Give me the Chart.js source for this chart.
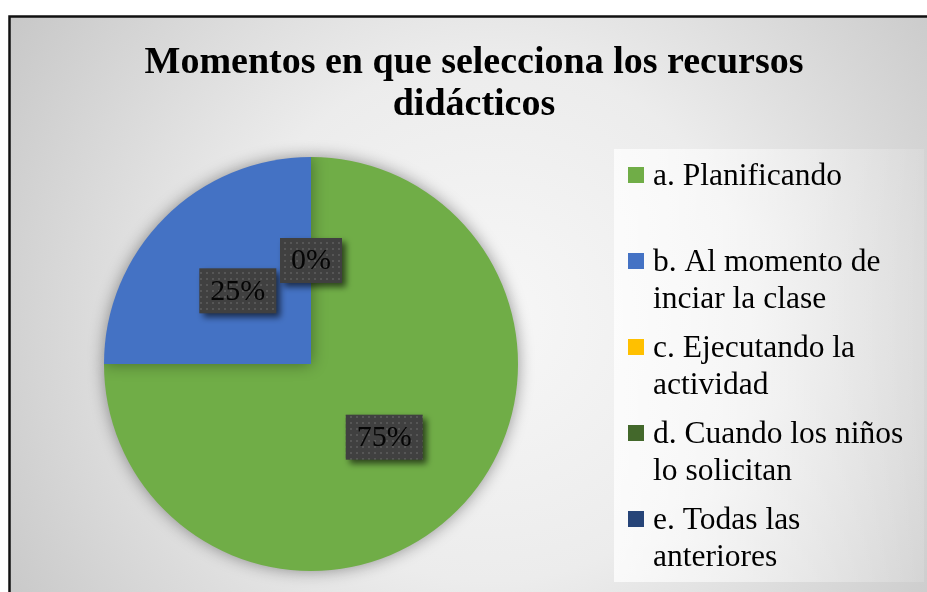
<!DOCTYPE html>
<html>
<head>
<meta charset="utf-8">
<script src="https://cdn.jsdelivr.net/npm/chart.js@4/dist/chart.umd.min.js"></script>
<style>
html,body{margin:0;padding:0;background:#fff;overflow:hidden;}
canvas{display:block;}
</style>
</head>
<body>
<canvas id="c" width="927" height="592"></canvas>
<script>
const titleLines = ["Momentos en que selecciona los recursos", "didácticos"];
const categories = ["a. Planificando", "b. Al momento de inciar la clase", "c. Ejecutando la actividad", "d. Cuando los niños lo solicitan", "e. Todas las anteriores"];
const values = [75, 25, 0, 0, 0];
const colors = ["#70AD47", "#4472C4", "#FFC000", "#43682B", "#264478"];

const SERIF = "'Liberation Serif','Times New Roman',serif";

function makePattern(ctx) {
  const p = document.createElement('canvas');
  p.width = 6; p.height = 6;
  const g = p.getContext('2d');
  g.fillStyle = '#404040'; g.fillRect(0, 0, 6, 6);
  g.fillStyle = '#565656'; g.fillRect(2, 2, 2, 2);
  return ctx.createPattern(p, 'repeat');
}

function wrap(ctx, text, maxW) {
  const words = text.split(' ');
  const lines = [];
  let cur = '';
  for (const w of words) {
    const t = cur ? cur + ' ' + w : w;
    if (ctx.measureText(t).width > maxW && cur) { lines.push(cur); cur = w; }
    else cur = t;
  }
  if (cur) lines.push(cur);
  return lines;
}

const decor = {
  id: 'decor',
  beforeDraw(chart) {
    const ctx = chart.ctx;
    ctx.save();
    ctx.fillStyle = '#fff';
    ctx.fillRect(0, 0, 927, 592);
    const g = ctx.createRadialGradient(490, 320, 0, 490, 320, 580);
    g.addColorStop(0, '#f7f7f7');
    g.addColorStop(0.45, '#ececec');
    g.addColorStop(1, '#c6c6c6');
    ctx.fillStyle = g;
    ctx.fillRect(9, 16, 918, 576);
    // border
    ctx.strokeStyle = '#111';
    ctx.lineWidth = 2.5;
    ctx.beginPath();
    ctx.moveTo(9.5, 592); ctx.lineTo(9.5, 16.5); ctx.lineTo(927, 16.5);
    ctx.stroke();
    // title
    ctx.fillStyle = '#000';
    ctx.font = 'bold 38px ' + SERIF;
    ctx.textAlign = 'center';
    ctx.textBaseline = 'alphabetic';
    ctx.fillText(titleLines[0], 474, 73);
    ctx.fillText(titleLines[1], 474, 115);
    // legend box
    const lg = ctx.createLinearGradient(614, 0, 924, 0);
    lg.addColorStop(0, 'rgba(255,255,255,0.75)');
    lg.addColorStop(1, 'rgba(255,255,255,0.12)');
    ctx.fillStyle = lg;
    ctx.fillRect(614, 149, 310, 433);
    // legend items
    ctx.font = '31.5px ' + SERIF;
    ctx.textAlign = 'left';
    const labels = chart.data.labels;
    const bg = chart.data.datasets[0].backgroundColor;
    labels.forEach((lab, i) => {
      const base = 185 + i * 86;
      ctx.fillStyle = bg[i];
      ctx.fillRect(628, base - 18, 16, 16);
      ctx.fillStyle = '#000';
      const lines = wrap(ctx, lab, 268);
      lines.forEach((ln, k) => ctx.fillText(ln, 653, base + k * 37));
    });
    ctx.restore();
  },
  beforeDatasetsDraw(chart) {
    const ctx = chart.ctx;
    ctx.save();
    ctx.shadowColor = 'rgba(0,0,0,0.4)';
    ctx.shadowBlur = 16;
    ctx.shadowOffsetX = 0;
    ctx.shadowOffsetY = 0;
  },
  afterDatasetsDraw(chart) {
    const ctx = chart.ctx;
    ctx.restore();
    ctx.save();
    const meta = chart.getDatasetMeta(0);
    const data = chart.data.datasets[0].data;
    const total = data.reduce((a, b) => a + b, 0);
    const pat = makePattern(ctx);
    const seen = new Set();
    ctx.font = '30px ' + SERIF;
    ctx.textAlign = 'center';
    ctx.textBaseline = 'middle';
    meta.data.forEach((arc, i) => {
      const pos = arc.tooltipPosition();
      const key = Math.round(pos.x) + ',' + Math.round(pos.y);
      if (seen.has(key)) return;
      seen.add(key);
      const txt = Math.round(data[i] / total * 100) + '%';
      const w = ctx.measureText(txt).width + 22;
      const h = 45;
      const x = pos.x - w / 2, y = pos.y - h / 2;
      ctx.save();
      ctx.shadowColor = 'rgba(0,0,0,0.6)';
      ctx.shadowBlur = 6;
      ctx.shadowOffsetX = 4;
      ctx.shadowOffsetY = 4;
      ctx.fillStyle = pat;
      ctx.fillRect(x, y, w, h);
      ctx.restore();
      ctx.fillStyle = '#050505';
      ctx.fillText(txt, pos.x, pos.y + 1);
    });
    ctx.restore();
  }
};

new Chart(document.getElementById('c'), {
  type: 'pie',
  data: {
    labels: categories,
    datasets: [{
      data: values,
      backgroundColor: colors,
      borderWidth: 0,
      hoverOffset: 0
    }]
  },
  options: {
    responsive: false,
    animation: false,
    events: [],
    layout: { padding: { left: 104, right: 409, top: 157, bottom: 21 } },
    plugins: {
      legend: { display: false },
      tooltip: { enabled: false },
      title: { display: false }
    }
  },
  plugins: [decor]
});
</script>
</body>
</html>
